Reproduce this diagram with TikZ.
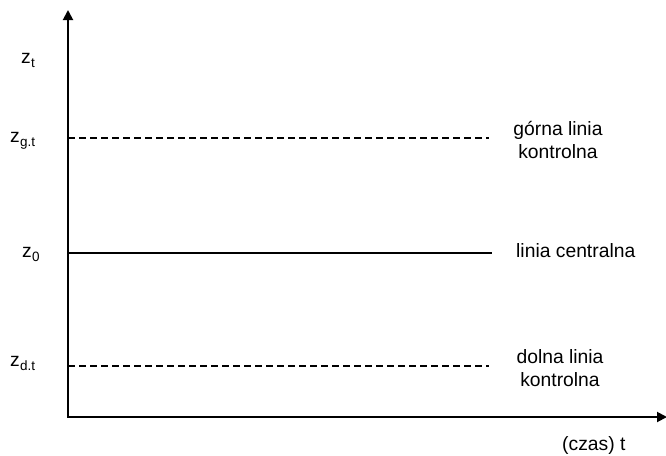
\documentclass[tikz,border=0pt]{standalone}
\usepackage{fontspec}
\setmainfont{Liberation Sans}
\usetikzlibrary{arrows.meta}

% variable name with a lowered, smaller index
\newcommand{\zidx}[1]{z\kern0.3pt\raisebox{-4.5pt}{\fontsize{13.5}{14}\selectfont #1}}

\tikzset{
  axis/.style={line width=1.9pt, -{Triangle[length=10pt,width=10pt]}},
  ctrlline/.style={line width=1.3pt, dash pattern=on 6.5pt off 4.5pt},
  centerline/.style={line width=1.3pt},
  lbl/.style={inner sep=0pt, font=\fontsize{19.3}{23}\selectfont},
  ylbl/.style={lbl, anchor=base west},
  rlbl/.style={lbl, align=center}
}

\begin{document}
\begin{tikzpicture}[x=1pt, y=-1pt]
  \useasboundingbox (0,0) rectangle (666,455);

  % axes
  \coordinate (origin) at (68,417);
  \coordinate (ytop) at (68,10);
  \coordinate (xend) at (667,417);
  \draw[axis] (origin) -- (ytop);
  \draw[axis] ([xshift=-1pt]origin) -- (xend);

  % reference lines
  \coordinate (g0) at (68,138);  \coordinate (g1) at (489,138);
  \coordinate (c0) at (68,253);  \coordinate (c1) at (492,253);
  \coordinate (d0) at (68,366);  \coordinate (d1) at (489,366);
  \draw[ctrlline] (g0) -- (g1);
  \draw[centerline] (c0) -- (c1);
  \draw[ctrlline] (d0) -- (d1);

  % labels on the vertical axis
  \node[ylbl] (zt)  at (21,63)  {\zidx{t}};
  \node[ylbl] (zgt) at (10,142) {\zidx{g.t}};
  \node[ylbl] (z0)  at (22,257) {\zidx{0}};
  \node[ylbl] (zdt) at (10,366) {\zidx{d.t}};

  % labels of the lines
  \node[rlbl] (upper)  at (558,140) {górna linia\\kontrolna};
  \node[rlbl, anchor=base west] (center) at (516,257) {linia centralna};
  \node[rlbl] (lower)  at (560,368) {dolna linia\\kontrolna};
  \node[rlbl, anchor=base west] (time) at (562,450) {(czas) t};
\end{tikzpicture}
\end{document}
